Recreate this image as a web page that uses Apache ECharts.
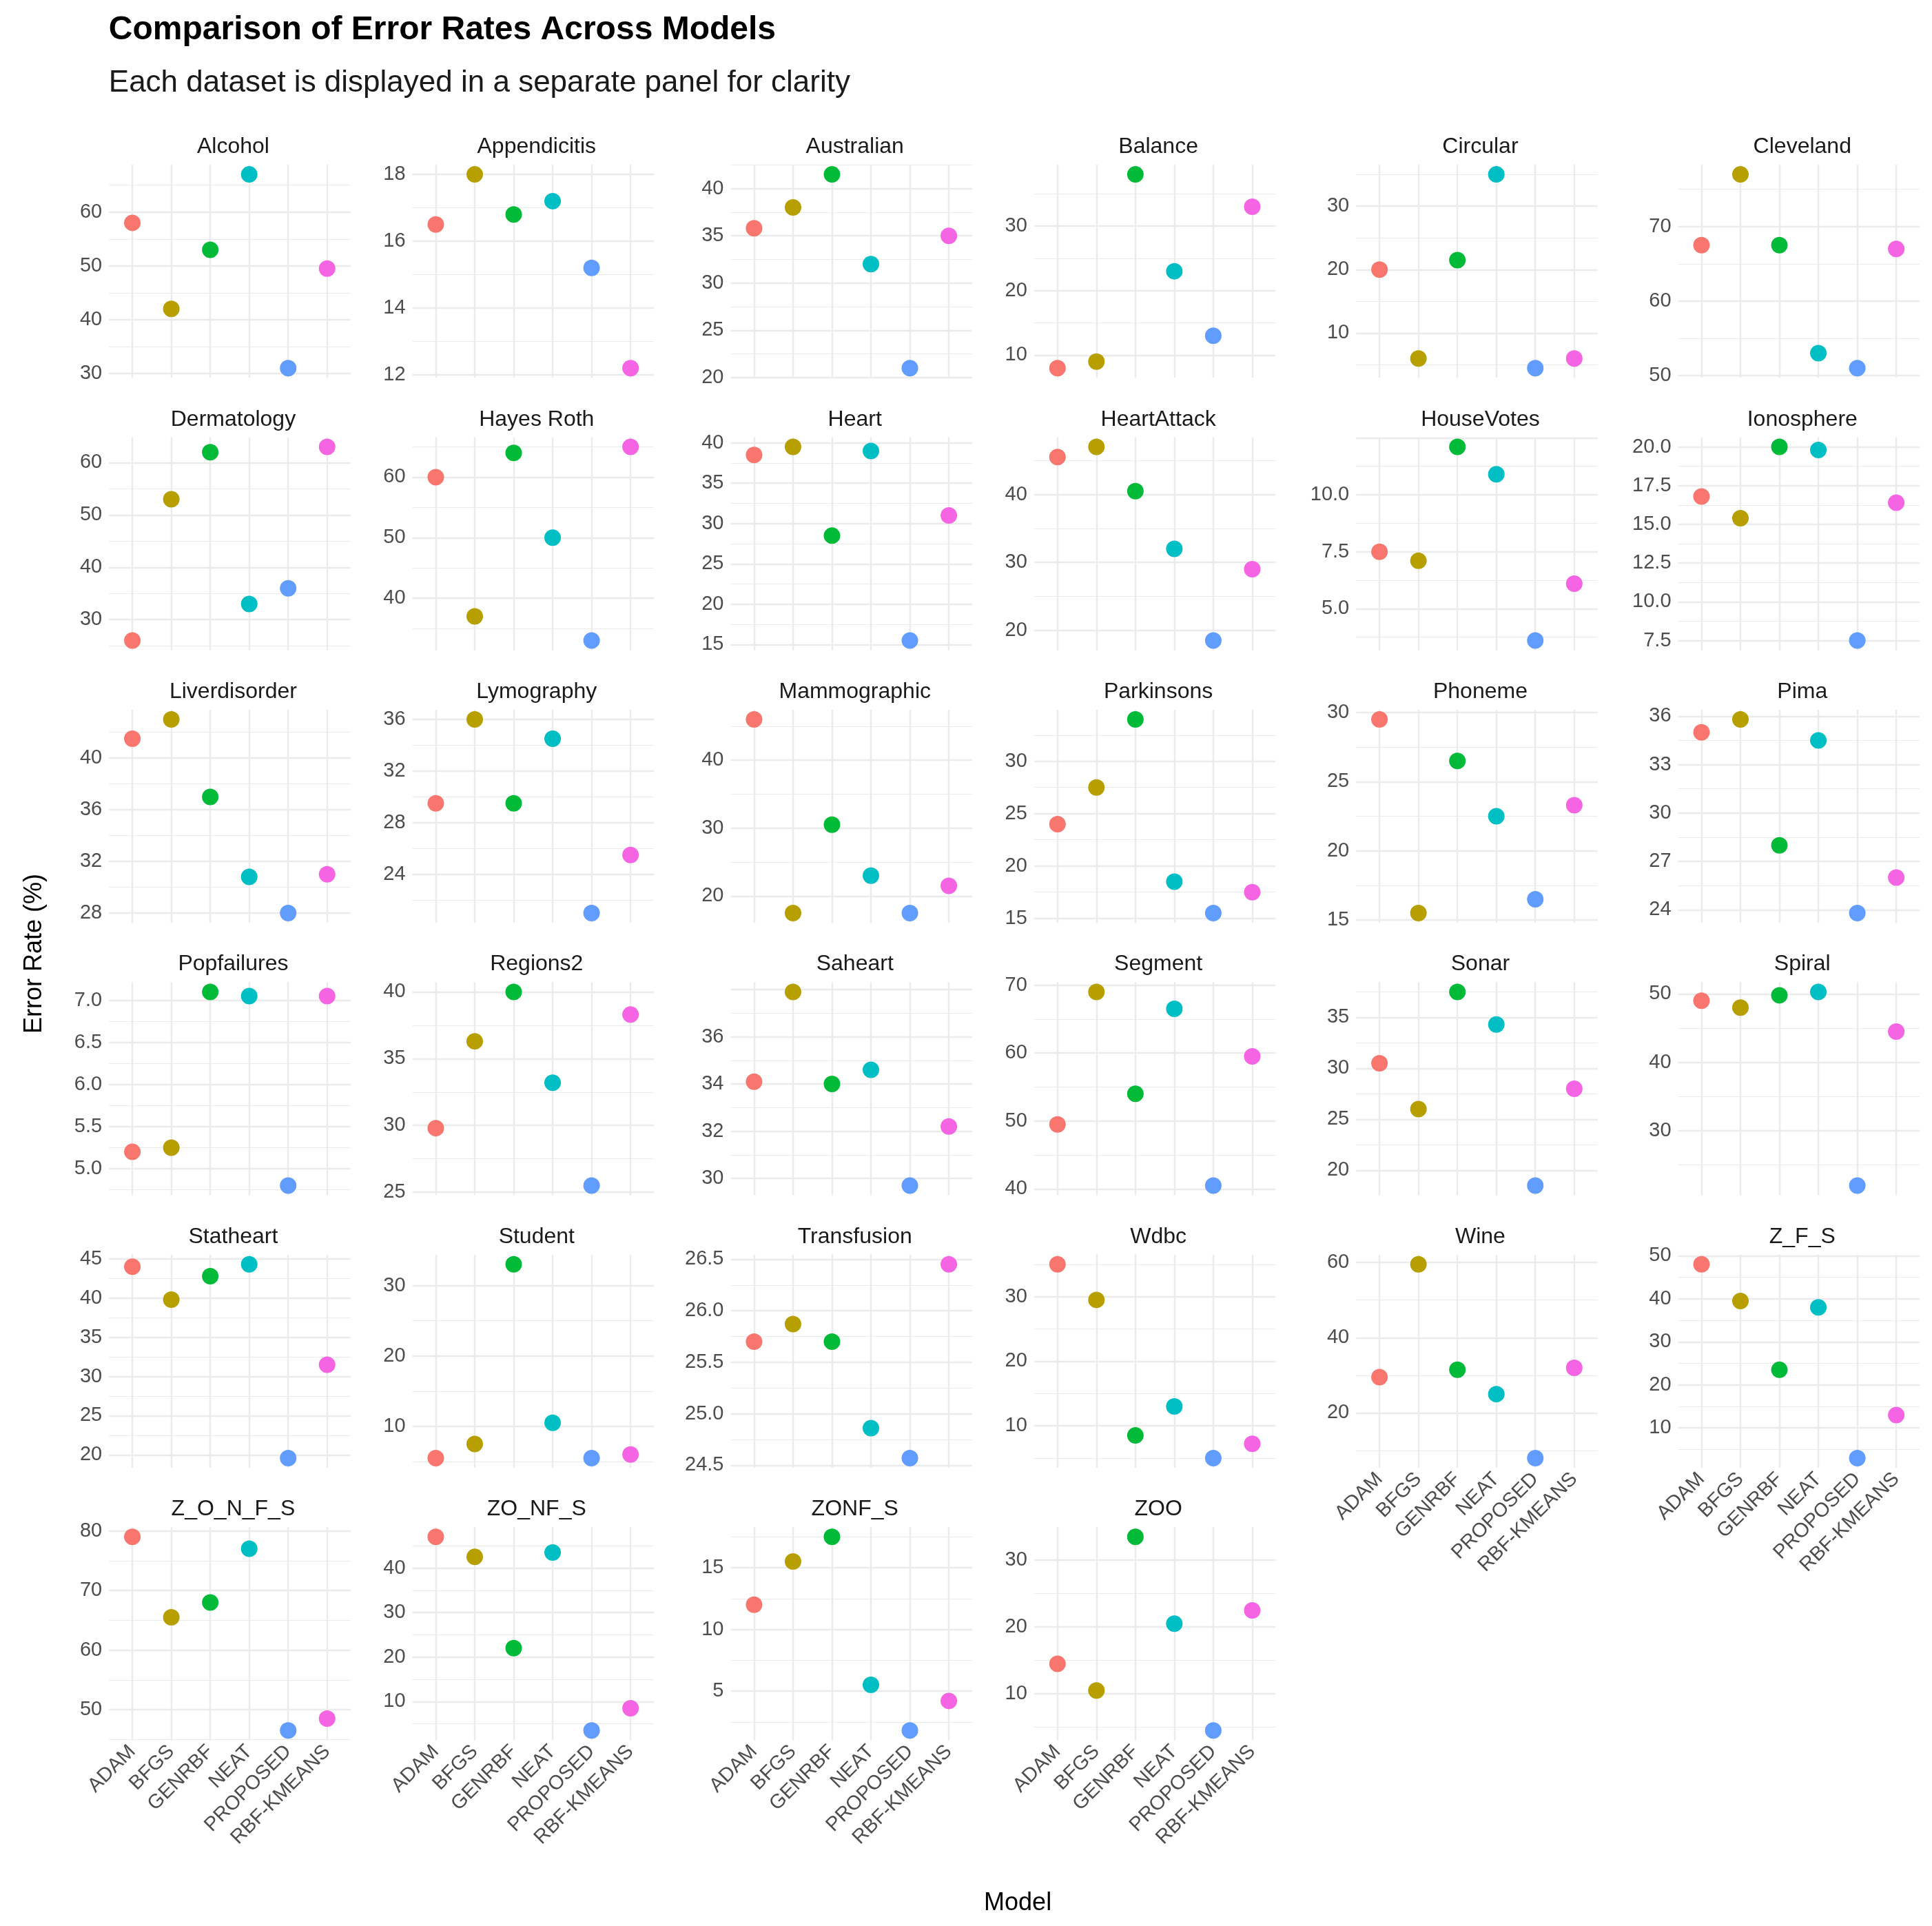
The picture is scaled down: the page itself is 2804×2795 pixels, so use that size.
<!DOCTYPE html>
<html><head><meta charset="utf-8">
<script src="https://cdn.jsdelivr.net/npm/echarts@6/dist/echarts.min.js"></script>
<style>html,body{margin:0;padding:0;background:#fff}#c{width:2804px;height:2795px}</style>
</head><body><div id="c"></div>
<script>
const models = ["ADAM","BFGS","GENRBF","NEAT","PROPOSED","RBF-KMEANS"];
const colors = ["#F8766D","#B79F00","#00BA38","#00BFC4","#619CFF","#F564E3"];
const datasets = ["Alcohol","Appendicitis","Australian","Balance","Circular","Cleveland",
"Dermatology","Hayes Roth","Heart","HeartAttack","HouseVotes","Ionosphere",
"Liverdisorder","Lymography","Mammographic","Parkinsons","Phoneme","Pima",
"Popfailures","Regions2","Saheart","Segment","Sonar","Spiral",
"Statheart","Student","Transfusion","Wdbc","Wine","Z_F_S",
"Z_O_N_F_S","ZO_NF_S","ZONF_S","ZOO"];
const values = [
[58,42,53,67,31,49.5],[16.5,18,16.8,17.2,15.2,12.2],[35.8,38,41.5,32,21,35],[8,9,38,23,13,33],[20,6,21.5,35,4.5,6],[67.5,77,67.5,53,51,67],
[26,53,62,33,36,63],[60,37,64,50,33,65],[38.5,39.5,28.5,39,15.5,31],[45.5,47,40.5,32,18.5,29],[7.5,7.1,12.1,10.9,3.6,6.1],[16.8,15.4,20,19.8,7.5,16.4],
[41.5,43,37,30.8,28,31],[29.5,36,29.5,34.5,21,25.5],[46,17.5,30.5,23,17.5,21.5],[24,27.5,34,18.5,15.5,17.5],[29.5,15.5,26.5,22.5,16.5,23.3],[35,35.8,28,34.5,23.8,26],
[5.2,5.25,7.1,7.05,4.8,7.05],[29.8,36.3,40,33.2,25.5,38.3],[34.1,37.9,34,34.6,29.7,32.2],[49.5,69,54,66.5,40.5,59.5],[30.5,26,37.5,34.3,18.5,28],[49,48,49.8,50.3,22,44.5],
[44,39.8,42.8,44.3,19.6,31.5],[5.5,7.5,33,10.5,5.5,6],[25.7,25.87,25.7,24.86,24.57,26.45],[35,29.5,8.5,13,5,7.2],[29.5,59.5,31.5,25,8,32],[48,39.5,23.5,38,3,13],
[79,65.5,68,77,46.5,48.5],[47,42.5,22,43.5,3.5,8.5],[12,15.5,17.5,5.5,1.8,4.2],[14.5,10.5,33.5,20.5,4.5,22.5]];
const tickLabels = [
[30,40,50,60],[12,14,16,18],[20,25,30,35,40],[10,20,30],[10,20,30],[50,60,70],
[30,40,50,60],[40,50,60],[15,20,25,30,35,40],[20,30,40],[5.0,7.5,10.0],[7.5,10.0,12.5,15.0,17.5,20.0],
[28,32,36,40],[20,24,28,32,36],[20,30,40],[15,20,25,30],[15,20,25,30],[24,27,30,33,36],
[5.0,5.5,6.0,6.5,7.0],[25,30,35,40],[30,32,34,36],[40,50,60,70],[20,25,30,35],[30,40,50],
[20,25,30,35,40,45],[10,20,30],[24.5,25.0,25.5,26.0,26.5],[10,20,30],[20,40,60],[10,20,30,40,50],
[50,60,70,80],[10,20,30,40],[5,10,15],[10,20,30]];
const S = 2804/1560;
const colL=[88,333,590,835,1095,1355], rowT=[133,353,573,793,1013,1233], W=195, H=172;
const grids=[],xAxes=[],yAxes=[],series=[],titles=[];
const gray="#4d4d4d", font="Liberation Sans, Arial, sans-serif";
titles.push({text:"Comparison of Error Rates Across Models",left:85*S,top:8*S,textStyle:{fontSize:48,fontWeight:"bold",color:"#000",fontFamily:font}});
titles.push({text:"Each dataset is displayed in a separate panel for clarity",left:85*S,top:52*S,textStyle:{fontSize:44,fontWeight:"normal",color:"#1a1a1a",fontFamily:font}});
titles.push({text:"Model",left:819*S,top:1524*S,textAlign:"center",textStyle:{fontSize:36,fontWeight:"normal",color:"#000",fontFamily:font}});
datasets.forEach((name,k)=>{
  const r=Math.floor(k/6), c=k%6;
  const left=colL[c]*S, top=rowT[r]*S;
  grids.push({left:left,top:top,width:W*S,height:H*S});
  titles.push({text:name,left:left+W*S/2,top:top-26*S,textAlign:"center",textStyle:{fontSize:32,fontWeight:"normal",color:"#1a1a1a",fontFamily:font}});
  const v=values[k], t=tickLabels[k];
  let lo=Math.min(...v), hi=Math.max(...v), d=hi-lo;
  const mn=lo-0.05*d, mx=hi+0.05*d;
  const step=t[1]-t[0];
  const lines=[];
  for(let q=t[0]-step*2;q<=t[t.length-1]+step*2+1e-9;q+=step/2){
    if(q>=mn-1e-9 && q<=mx+1e-9){
      const major=Math.abs(((q-t[0])/step)-Math.round((q-t[0])/step))<1e-6;
      lines.push({yAxis:q,lineStyle:{width:major?2.4:1.2}});
    }
  }
  for(let i=0;i<6;i++) lines.push({xAxis:i,lineStyle:{width:2.4}});
  const showX = (r===5)||(r===4&&c>=4);
  xAxes.push({gridIndex:k,type:"value",min:-0.6,max:5.6,axisLine:{show:false},axisTick:{show:false},splitLine:{show:false},
    axisLabel:{show:showX,customValues:[0,1,2,3,4,5],formatter:(x)=>models[Math.round(x)],rotate:45,color:gray,fontSize:29,fontFamily:font,margin:12}});
  yAxes.push({gridIndex:k,type:"value",min:mn,max:mx,axisLine:{show:false},axisTick:{show:false},splitLine:{show:false},
    axisLabel:{customValues:t,formatter:(x)=>(t.some(z=>z%1!==0))?x.toFixed(1):String(Math.round(x)),color:gray,fontSize:29,fontFamily:font,margin:10}});
  series.push({type:"line",xAxisIndex:k,yAxisIndex:k,data:[],z:1,silent:true,
    markLine:{silent:true,symbol:["none","none"],label:{show:false},animation:false,lineStyle:{color:"#ebebeb",type:"solid"},data:lines}});
  series.push({type:"scatter",xAxisIndex:k,yAxisIndex:k,z:5,symbolSize:24,
    data:v.map((y,i)=>({value:[i,y],itemStyle:{color:colors[i],opacity:1}}))});
});
const ch=echarts.init(document.getElementById("c"));
ch.setOption({animation:false,backgroundColor:"#fff",title:titles,grid:grids,xAxis:xAxes,yAxis:yAxes,series:series,
  graphic:[{type:"text",x:28*S,y:770*S,rotation:Math.PI/2,style:{text:"Error Rate (%)",fontSize:36,fontFamily:font,fill:"#000",textAlign:"center",textVerticalAlign:"middle"}}]});
</script>
</body></html>
